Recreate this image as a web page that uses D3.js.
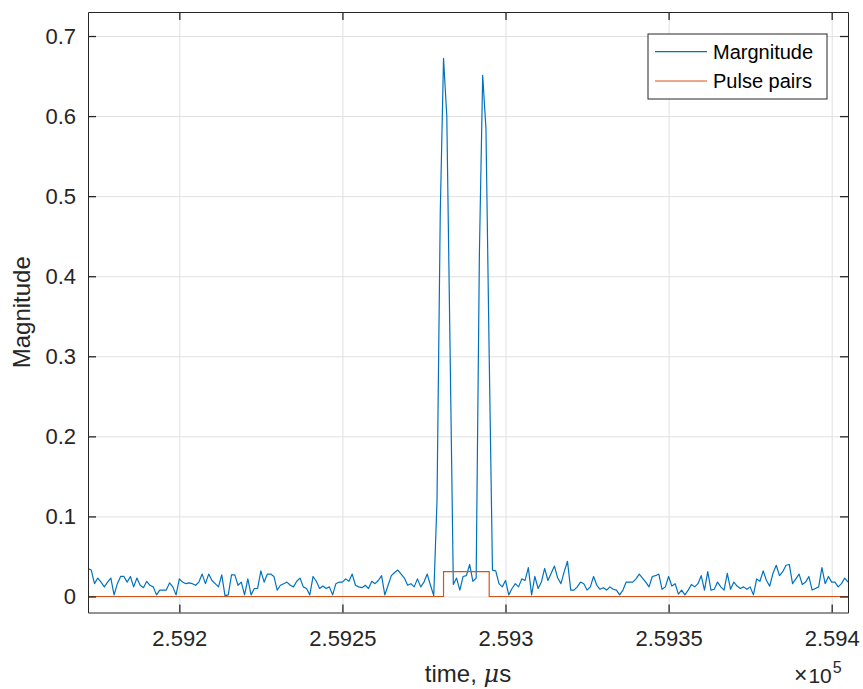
<!DOCTYPE html>
<html>
<head>
<meta charset="utf-8">
<script src="https://cdn.jsdelivr.net/npm/d3@7"></script>
<style>
  body { margin: 0; background: #fff; }
  svg { display: block; font-family: "Liberation Sans", Arial, Helvetica, sans-serif; }
</style>
</head>
<body>
<svg id="chart" width="863" height="689"></svg>
<script>
// sampled magnitude, one sample per microsecond starting at timeStart
const timeStart = 259172
const magnitude = [
  0.035, 0.033, 0.016, 0.023, 0.018, 0.012, 0.018, 0.023, 0.002, 0.016,
  0.025, 0.025, 0.018, 0.025, 0.012, 0.023, 0.014, 0.011, 0.019, 0.014,
  0.012, 0.002, 0.008, 0.008, 0.008, 0.017, 0.012, 0.002, 0.022, 0.018,
  0.016, 0.017, 0.016, 0.014, 0.018, 0.028, 0.016, 0.028, 0.020, 0.016,
  0.012, 0.027, 0.001, 0.002, 0.027, 0.027, 0.014, 0.018, 0.002, 0.022,
  0.002, 0.010, 0.010, 0.032, 0.018, 0.028, 0.028, 0.025, 0.008, 0.014,
  0.016, 0.018, 0.014, 0.012, 0.019, 0.023, 0.012, 0.010, 0.002, 0.025,
  0.019, 0.010, 0.013, 0.010, 0.012, 0.002, 0.016, 0.018, 0.018, 0.022,
  0.019, 0.028, 0.014, 0.012, 0.011, 0.014, 0.010, 0.019, 0.016, 0.020,
  0.026, 0.002, 0.014, 0.026, 0.030, 0.033, 0.028, 0.023, 0.014, 0.016,
  0.012, 0.022, 0.012, 0.018, 0.028, 0.014, 0.001, 0.120, 0.480, 0.672,
  0.600, 0.310, 0.015, 0.023, 0.008, 0.025, 0.026, 0.040, 0.019, 0.023,
  0.430, 0.651, 0.585, 0.300, 0.033, 0.032, 0.016, 0.012, 0.020, 0.002,
  0.010, 0.016, 0.012, 0.022, 0.020, 0.036, 0.002, 0.025, 0.010, 0.018,
  0.035, 0.020, 0.029, 0.038, 0.023, 0.016, 0.031, 0.044, 0.008, 0.008,
  0.012, 0.018, 0.016, 0.008, 0.012, 0.025, 0.014, 0.009, 0.011, 0.008,
  0.012, 0.009, 0.008, 0.002, 0.008, 0.018, 0.018, 0.018, 0.022, 0.028,
  0.023, 0.018, 0.012, 0.025, 0.026, 0.028, 0.009, 0.012, 0.025, 0.013,
  0.016, 0.003, 0.008, 0.002, 0.008, 0.015, 0.012, 0.016, 0.026, 0.008,
  0.031, 0.008, 0.009, 0.018, 0.012, 0.008, 0.029, 0.009, 0.018, 0.013,
  0.010, 0.012, 0.009, 0.012, 0.002, 0.022, 0.019, 0.032, 0.020, 0.013,
  0.029, 0.039, 0.026, 0.031, 0.039, 0.040, 0.016, 0.022, 0.028, 0.015,
  0.018, 0.025, 0.008, 0.010, 0.012, 0.036, 0.016, 0.025, 0.018, 0.018,
  0.012, 0.016, 0.023, 0.018
]

// detected pulse pair window (step line)
const pulseTimes = [259172, 259281, 259281, 259295, 259295, 259405]
const pulseLevels = [0, 0, 0.031, 0.031, 0, 0]

const seriesNames = ['Margnitude', 'Pulse pairs']
const seriesColors = ['#0072BD', '#D95319']

const xDomain = [259172, 259405]
const yDomain = [-0.02, 0.73]
const xTicks = [259200, 259250, 259300, 259350, 259400]
const xTickLabels = ['2.592', '2.5925', '2.593', '2.5935', '2.594']
const yTicks = [0, 0.1, 0.2, 0.3, 0.4, 0.5, 0.6, 0.7]
const yTickLabels = ['0', '0.1', '0.2', '0.3', '0.4', '0.5', '0.6', '0.7']

const box = { left: 88, top: 12, right: 848, bottom: 612.5 }
const axisColor = '#262626'
const gridColor = '#e0e0e0'

var svg = d3.select('#chart')

var x = d3.scaleLinear().domain(xDomain).range([box.left, box.right])
var y = d3.scaleLinear().domain(yDomain).range([box.bottom, box.top])

svg.append('rect')
  .attr('width', 863).attr('height', 689)
  .attr('fill', '#fff')

// grid
svg.append('g')
  .attr('transform', 'translate(0,' + box.bottom + ')')
  .call(d3.axisBottom(x).tickValues(xTicks).tickSize(-(box.bottom - box.top)).tickFormat(''))
  .call(g => g.select('.domain').remove())
  .selectAll('line').attr('stroke', gridColor).attr('stroke-width', 1)

svg.append('g')
  .attr('transform', 'translate(' + box.left + ',0)')
  .call(d3.axisLeft(y).tickValues(yTicks).tickSize(-(box.right - box.left)).tickFormat(''))
  .call(g => g.select('.domain').remove())
  .selectAll('line').attr('stroke', gridColor).attr('stroke-width', 1)

svg.append('clipPath')
  .attr('id', 'plot-clip')
  .append('rect')
  .attr('x', box.left).attr('y', box.top)
  .attr('width', box.right - box.left).attr('height', box.bottom - box.top)

var plot = svg.append('g').attr('clip-path', 'url(#plot-clip)')

var line = d3.line()
  .x(function(d) { return x(d[0]) })
  .y(function(d) { return y(d[1]) })

var magData = magnitude.map(function(v, i) { return [timeStart + i, v] })
var pulseData = pulseTimes.map(function(t, i) { return [t, pulseLevels[i]] })

plot.append('path')
  .datum(magData)
  .attr('d', line)
  .attr('fill', 'none')
  .attr('stroke', seriesColors[0])
  .attr('stroke-width', 1.2)
  .attr('stroke-linejoin', 'round')

plot.append('path')
  .datum(pulseData)
  .attr('d', line)
  .attr('fill', 'none')
  .attr('stroke', seriesColors[1])
  .attr('stroke-width', 1.2)

// axes with inward ticks on all four sides
function styleAxis(g) {
  g.select('.domain').attr('stroke', axisColor).attr('stroke-width', 1)
  g.selectAll('.tick line').attr('stroke', axisColor).attr('stroke-width', 1.3)
  g.selectAll('.tick text')
    .attr('fill', axisColor)
    .style('font-size', '22px')
}

svg.append('g')
  .attr('transform', 'translate(0,' + box.bottom + ')')
  .call(d3.axisBottom(x).tickValues(xTicks)
    .tickFormat(function(d, i) { return xTickLabels[i] })
    .tickSizeInner(-8).tickSizeOuter(0).tickPadding(18))
  .call(styleAxis)

svg.append('g')
  .attr('transform', 'translate(0,' + box.top + ')')
  .call(d3.axisTop(x).tickValues(xTicks).tickFormat('')
    .tickSizeInner(-8).tickSizeOuter(0))
  .call(styleAxis)

svg.append('g')
  .attr('transform', 'translate(' + box.left + ',0)')
  .call(d3.axisLeft(y).tickValues(yTicks)
    .tickFormat(function(d, i) { return yTickLabels[i] })
    .tickSizeInner(-8).tickSizeOuter(0).tickPadding(12))
  .call(styleAxis)

svg.append('g')
  .attr('transform', 'translate(' + box.right + ',0)')
  .call(d3.axisRight(y).tickValues(yTicks).tickFormat('')
    .tickSizeInner(-8).tickSizeOuter(0))
  .call(styleAxis)

// axis labels
svg.append('text')
  .attr('transform', 'translate(30,' + (box.top + box.bottom) / 2 + ') rotate(-90)')
  .attr('text-anchor', 'middle')
  .attr('fill', axisColor)
  .style('font-size', '24px')
  .text('Magnitude')

var xl = svg.append('text')
  .attr('x', (box.left + box.right) / 2)
  .attr('y', 682)
  .attr('text-anchor', 'middle')
  .attr('fill', axisColor)
  .style('font-size', '24px')
xl.append('tspan').text('time, ')
xl.append('tspan').style('font-style', 'italic').style('font-family', '"DejaVu Serif", serif').text('\u03bc')
xl.append('tspan').text('s')

// exponent
var ex = svg.append('text')
  .attr('x', 794)
  .attr('y', 683)
  .attr('fill', axisColor)
  .style('font-size', '21px')
ex.append('tspan').style('font-size', '23px').text('\u00d7')
ex.append('tspan').attr('dx', 1).text('10')
ex.append('tspan').attr('dx', 1).attr('dy', -10).style('font-size', '16px').text('5')

// legend
var legend = svg.append('g')
legend.append('rect')
  .attr('x', 648).attr('y', 34)
  .attr('width', 179).attr('height', 65)
  .attr('fill', '#fff')
  .attr('stroke', axisColor)
  .attr('stroke-width', 1)

seriesNames.forEach(function(name, i) {
  var ly = 51.7 + i * 29.3
  legend.append('line')
    .attr('x1', 655).attr('x2', 707)
    .attr('y1', ly).attr('y2', ly)
    .attr('stroke', seriesColors[i])
    .attr('stroke-width', 1.2)
  legend.append('text')
    .attr('x', 713).attr('y', ly)
    .attr('dy', '0.35em')
    .attr('fill', '#000')
    .style('font-size', '20px')
    .text(name)
})
</script>
</body>
</html>
